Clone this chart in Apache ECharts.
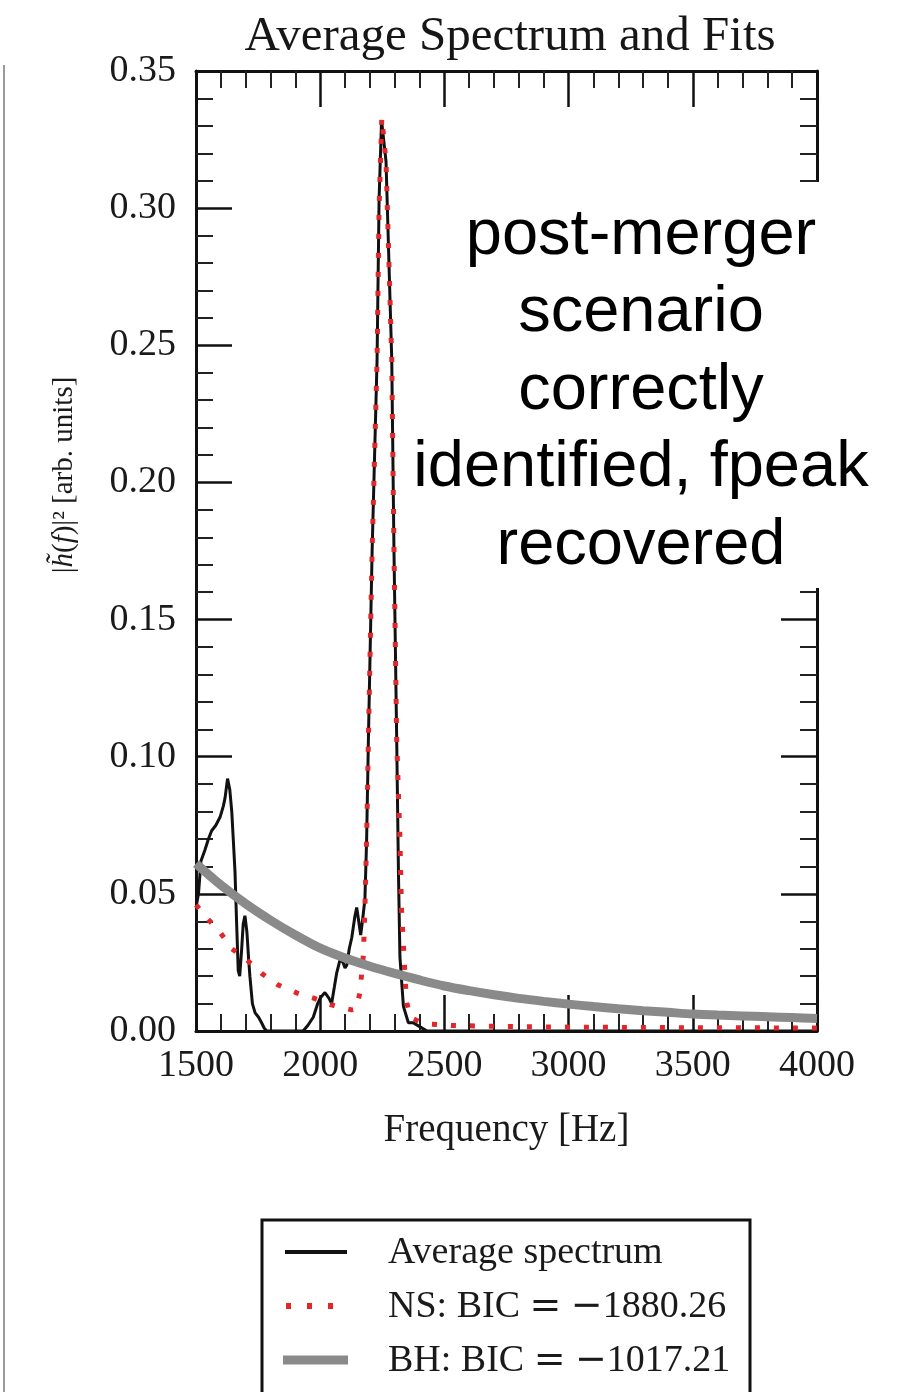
<!DOCTYPE html>
<html><head><meta charset="utf-8">
<script src="https://cdn.jsdelivr.net/npm/echarts@6/dist/echarts.min.js"></script>
<style>html,body{margin:0;padding:0;background:#fff}#c{width:902px;height:1392px}</style>
</head><body><div id="c"></div>
<script>
// ---- data ----
const avgFreq = [1502,1510,1520,1536,1550,1563,1580,1597,1610,1617,1627,1636,1644,1650,1657,1664,1670,1676,1684,1690,1697,1705,1712,1717,1727,1738,1752,1764,1775,1785,1931,1950,1972,1990,2000,2019,2035,2046,2057,2066,2080,2092,2100,2107,2117,2127,2140,2147,2155,2163,2170,2180,2187,2194,2209,2229,2237,2247,2265,2288,2297,2308,2315,2321,2335,2355,2374,2402,2430,4000];
const avgVal  = [0.046,0.050,0.062,0.066,0.070,0.073,0.075,0.078,0.082,0.085,0.092,0.088,0.080,0.070,0.058,0.038,0.022,0.020,0.030,0.039,0.042,0.036,0.026,0.020,0.010,0.0066,0.005,0.003,0.001,0.0,0.0,0.002,0.005,0.010,0.012,0.014,0.012,0.010,0.016,0.021,0.026,0.025,0.023,0.024,0.030,0.034,0.042,0.045,0.040,0.035,0.040,0.048,0.070,0.106,0.175,0.245,0.303,0.332,0.317,0.245,0.175,0.106,0.058,0.027,0.009,0.003,0.003,0.0015,0.0,0.0];

const nsFreq = [1500,1536,1597,1644,1704,1764,1830,1905,1979,2046,2100,2127,2145,2160,2167,2174,2180,2187,2194,2209,2229,2237,2248,2265,2288,2297,2308,2321,2327,2341,2347,2362,2402,2450,2529,2700,3000,3500,4000];
const nsVal  = [0.046,0.042,0.036,0.030,0.026,0.021,0.0168,0.0139,0.0118,0.0095,0.0082,0.0077,0.008,0.014,0.021,0.028,0.045,0.070,0.106,0.175,0.245,0.300,0.333,0.317,0.245,0.175,0.106,0.070,0.045,0.021,0.011,0.005,0.0033,0.0025,0.002,0.0017,0.0014,0.0012,0.0011];

const bhFreq = [1500,1600,1700,1800,1900,2000,2100,2200,2300,2400,2500,2600,2700,2800,2900,3000,3100,3200,3300,3400,3500,3600,3700,3800,3900,4000];
const bhVal  = [0.0610,0.0532,0.0464,0.0404,0.0350,0.0302,0.0266,0.0236,0.0210,0.0186,0.0164,0.0147,0.0132,0.0119,0.0108,0.0098,0.0089,0.0081,0.0074,0.0068,0.0062,0.0058,0.0055,0.0052,0.0049,0.0046];

const xTicks = [1500,2000,2500,3000,3500,4000];
const yTicks = [0.00,0.05,0.10,0.15,0.20,0.25,0.30,0.35];
const seriesNames = ['Average spectrum','NS: BIC = \u22121880.26','BH: BIC = \u22121017.21'];
const titleText = 'Average Spectrum and Fits';
const xName = 'Frequency [Hz]';
const yName = '|{i|h\u0303}({i|f})|\u00B2 [arb. units]';
const noteLines = ['post-merger','scenario','correctly','identified, fpeak','recovered'];

// ---- chart ----
const SERIF = '"Liberation Serif","DejaVu Serif",serif';
const zip = (a,b) => a.map((v,i)=>[v,b[i]]);
const xMin = xTicks[0], xMax = xTicks[xTicks.length-1], xInt = xTicks[1]-xTicks[0];
const yMin = yTicks[0], yMax = yTicks[yTicks.length-1], yInt = yTicks[1]-yTicks[0];
// typeset the math operators of the legend with wider glyphs, as in the reference
const mathOps = s => s.replace(' = \u2212', ' {m|=} {m|\u2212}');

const COL = {avg:'#111', ns:'#e3262a', bh:'#8a8a8a'};

function axisCommon(){
  return {
    axisLine:{show:true,onZero:false,lineStyle:{color:'#111',width:3}},
    axisTick:{show:true,inside:true,length:36,lineStyle:{color:'#111',width:2.5}},
    minorTick:{show:true,splitNumber:5,length:17,lineStyle:{color:'#222',width:2}},
    splitLine:{show:false},
    minorSplitLine:{show:false}
  };
}
function xAx(pos, labels){
  return Object.assign(axisCommon(), {
    type:'value', position:pos, min:xMin, max:xMax, interval:xInt,
    axisLabel:{show:labels, margin:16, fontSize:38, fontFamily:SERIF, color:'#1a1a1a',
      formatter:v=>String(v)},
    name: labels ? xName : '', nameLocation:'middle', nameGap:80,
    nameTextStyle:{fontSize:39, fontFamily:SERIF, color:'#1a1a1a'}
  });
}
function yAx(pos, labels){
  return Object.assign(axisCommon(), {
    type:'value', position:pos, min:yMin, max:yMax, interval:yInt,
    axisLabel:{show:labels, margin:20, fontSize:38, fontFamily:SERIF, color:'#1a1a1a',
      formatter:v=>v.toFixed(2)},
    name: labels ? yName : '', nameLocation:'middle', nameGap:117, nameRotate:90,
    nameTextStyle:{fontSize:29, fontFamily:SERIF, color:'#1a1a1a', padding:[0,0,0,152],
      rich:{i:{fontSize:29, fontFamily:SERIF, fontStyle:'italic', color:'#1a1a1a'}}}
  });
}

// legend geometry (drawn with graphic elements)
const LG = {x:262, y:1220, w:488, h:220, textX:388, rows:[1252,1306,1360], sx1:285, sx2:347};

const chart = echarts.init(document.getElementById('c'), null, {renderer:'canvas'});
chart.setOption({
  animation:false,
  backgroundColor:'#fff',
  title:{text:titleText, left:505, top:8, textAlign:'center',
    textStyle:{fontSize:49, fontWeight:'normal', fontFamily:SERIF, color:'#161616'}},
  grid:{left:196, right:85, top:71, bottom:361, containLabel:false, outerBoundsMode:'none'},
  xAxis:[xAx('bottom',true), xAx('top',false)],
  yAxis:[yAx('left',true), yAx('right',false)],
  series:[
    {name:seriesNames[0], type:'line', data:zip(avgFreq,avgVal), showSymbol:false, symbol:'none',
      lineStyle:{color:COL.avg, width:3}, itemStyle:{color:COL.avg}, z:3},
    {name:seriesNames[1], type:'line', data:zip(nsFreq,nsVal), showSymbol:false, symbol:'none',
      lineStyle:{color:COL.ns, width:5, type:[5,14]}, itemStyle:{color:COL.ns}, z:4},
    {name:seriesNames[2], type:'line', data:zip(bhFreq,bhVal), showSymbol:false, symbol:'none', smooth:0.3,
      lineStyle:{color:COL.bh, width:9}, itemStyle:{color:COL.bh}, z:5}
  ],
  graphic:[
    {type:'line', shape:{x1:4,y1:65,x2:4,y2:1392}, style:{stroke:'#9a9a9a', lineWidth:2}, z:1},
    {type:'rect', shape:{x:405,y:182,width:497,height:406}, style:{fill:'#fff'}, z:100},
    {type:'text', x:641, y:391, z:101,
      style:{text:noteLines.join('\n'), fontSize:65, fontFamily:'"Liberation Sans",Arial,sans-serif',
        fill:'#000', align:'center', verticalAlign:'middle', textAlign:'center', textVerticalAlign:'middle', lineHeight:77.5}},
    // legend
    {type:'rect', shape:{x:LG.x,y:LG.y,width:LG.w,height:LG.h}, style:{fill:'#fff', stroke:'#111', lineWidth:3}, z:50},
    {type:'line', shape:{x1:LG.sx1,y1:LG.rows[0],x2:LG.sx2,y2:LG.rows[0]}, style:{stroke:COL.avg, lineWidth:4}, z:51},
    {type:'line', shape:{x1:LG.sx1+1,y1:LG.rows[1],x2:LG.sx2,y2:LG.rows[1]}, style:{stroke:COL.ns, lineWidth:6, lineDash:[5,16]}, z:51},
    {type:'line', shape:{x1:LG.sx1-2,y1:LG.rows[2],x2:LG.sx2+1,y2:LG.rows[2]}, style:{stroke:COL.bh, lineWidth:9}, z:51},
    ...seriesNames.map((n,i)=>({type:'text', x:LG.textX, y:LG.rows[i]+1, z:51,
      style:{text:mathOps(n), fontSize:38, fontFamily:SERIF, fill:'#1a1a1a', align:'left', verticalAlign:'middle', textAlign:'left', textVerticalAlign:'middle',
        rich:{m:{fontSize:38, fontFamily:'"DejaVu Sans",sans-serif', fill:'#1a1a1a', color:'#1a1a1a'}}}}))
  ]
});
</script></body></html>
